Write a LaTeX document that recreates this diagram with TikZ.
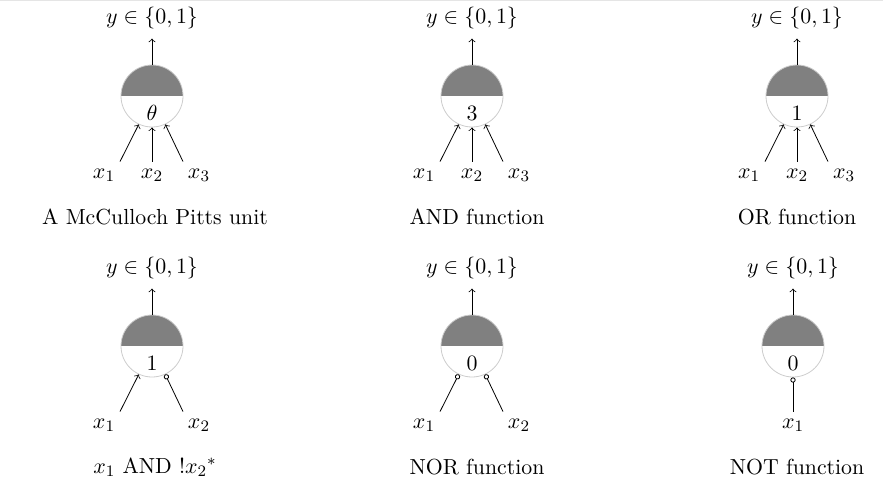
\documentclass[tikz,border=0pt]{standalone}
\usepackage{amsmath}
\usepackage{amssymb}
\usetikzlibrary{positioning, arrows, arrows.meta, calc}
\tikzstyle{neuron}=[circle, draw=black!20, minimum size=31pt, inner sep=0pt,
  path picture={\fill[gray] (path picture bounding box.west) rectangle (path picture bounding box.north east);}]
\tikzstyle{arrow}=[->, >=to, draw=black]
\tikzstyle{inhib}=[-{Circle[open,length=2.6pt]}, draw=black]
\tikzstyle{caption}=[anchor=center]
\newcommand{\mpunit}[4]{%
  \node[neuron] (#1) at (#2,#3) {};
  \node at ($(#1)+(0,-8.5pt)$) {$#4$};
  \node (#1out) at ($(#1)+(0,39pt)$) {$y \in \{0,1\}$};
  \draw[arrow] (#1.north) -- ($(#1.north)+(0,13pt)$);
}
\begin{document}
\begin{tikzpicture}[x=0.5pt, y=-0.5pt, every node/.style={font=\fontsize{10.9}{13}\selectfont}]
      \useasboundingbox (0,0) rectangle (883,492);
      \draw[black!10] (0,0.5) -- (883,0.5);

      % first row
      \mpunit{mp}{152}{96}{\theta}
      \mpunit{and}{472}{96}{3}
      \mpunit{or}{797}{96}{1}
      \foreach \u/\x in {mp/152, and/472, or/797} {
        \node (\u a) at (\x-48,175) {$x_1$};
        \node (\u b) at (\x,175) {$x_2$};
        \node (\u c) at (\x+47,175) {$x_3$};
        \draw[arrow] (\u a.north) ++(8pt,0) -- (\u.-115);
        \draw[arrow] (\u b.north) -- (\u.south);
        \draw[arrow] (\u c.north) ++(-8pt,0) -- (\u.-65);
      }
      \node[caption] at (155,217) {A McCulloch Pitts unit};
      \node[caption] at (477,217) {AND function};
      \node[caption] at (797,217) {OR function};

      % second row
      \mpunit{ann}{152}{346}{1}
      \mpunit{nor}{472}{346}{0}
      \mpunit{not}{793}{346}{0}
      \foreach \u/\x in {ann/152, nor/472} {
        \node (\u a) at (\x-48,425) {$x_1$};
        \node (\u b) at (\x+47,425) {$x_2$};
      }
      \draw[arrow] (anna.north) ++(8pt,0) -- (ann.-115);
      \draw[inhib] (annb.north) ++(-8pt,0) -- (ann.-65);
      \draw[inhib] (nora.north) ++(8pt,0) -- (nor.-115);
      \draw[inhib] (norb.north) ++(-8pt,0) -- (nor.-65);
      \node (nota) at (793,425) {$x_1$};
      \draw[inhib] (nota.north) -- (not.south);
      \node[caption] at (155,467) {$x_1$ AND !$x_2$$^*$};
      \node[caption] at (477,467) {NOR function};
      \node[caption] at (797,467) {NOT function};
    \end{tikzpicture}
\end{document}
